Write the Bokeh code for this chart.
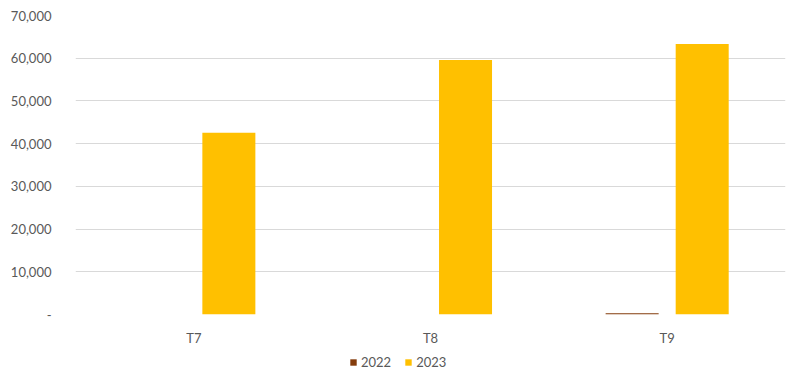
from bokeh.plotting import figure
from bokeh.layouts import column
from bokeh.models import ColumnDataSource, FactorRange, FixedTicker, Legend, LegendItem
from bokeh.transform import dodge
from bokeh.embed import file_html
from bokeh.resources import INLINE

categories = ["T7", "T8", "T9"]
series_2022 = [0, 0, 300]
series_2023 = [42550, 59600, 63350]
series_names = ["2022", "2023"]
y_ticks = [0, 10000, 20000, 30000, 40000, 50000, 60000, 70000]
y_labels = ["-", "10,000", "20,000", "30,000", "40,000", "50,000", "60,000", "70,000"]

colors = ["#843C0C", "#FFC000"]
source = ColumnDataSource(dict(cat=categories, y2022=series_2022, y2023=series_2023))

FONT = "Lato"
TXT = "#595959"

p = figure(width=790, height=348, x_range=FactorRange(*categories, range_padding=0),
           y_range=(0, 70000), output_backend="svg", toolbar_location=None,
           min_border_left=75, min_border_right=5, min_border_top=15, min_border_bottom=26)
p.outline_line_color = None
p.background_fill_color = "white"
p.border_fill_color = "white"

p.vbar(x=dodge("cat", -0.148, range=p.x_range), top="y2022", width=0.224,
       source=source, color=colors[0], line_color=None)
p.vbar(x=dodge("cat", 0.148, range=p.x_range), top="y2023", width=0.224,
       source=source, color=colors[1], line_color=None)

p.yaxis.ticker = FixedTicker(ticks=y_ticks)
p.yaxis.major_label_overrides = {t: l for t, l in zip(y_ticks, y_labels)}
for ax in (p.xaxis, p.yaxis):
    ax.axis_line_color = None
    ax.major_tick_line_color = None
    ax.minor_tick_line_color = None
    ax.major_label_text_font = FONT
    ax.major_label_text_font_size = "13px"
    ax.major_label_text_color = TXT
p.yaxis.major_label_standoff = 18
p.xaxis.major_label_standoff = 9

p.xgrid.grid_line_color = None
p.ygrid.grid_line_color = "#d9d9d9"
p.ygrid.grid_line_width = 1

# legend strip
lg = figure(width=790, height=36, output_backend="svg", toolbar_location=None,
            x_range=(0, 1), y_range=(0, 1), min_border=0)
lg.axis.visible = False
lg.grid.grid_line_color = None
lg.outline_line_color = None
items = []
for name, c in zip(series_names, colors):
    r = lg.quad(left=[-10], right=[-9], bottom=[-10], top=[-9], color=c, line_color=None)
    items.append(LegendItem(label=name, renderers=[r]))
legend = Legend(items=items, orientation="horizontal", location=(274, 14),
                label_text_font=FONT, label_text_font_size="13px", label_text_color=TXT,
                glyph_width=8, glyph_height=8, label_standoff=4, spacing=13,
                label_width=0, label_height=0,
                border_line_color=None, background_fill_alpha=0,
                padding=0, margin=0)
lg.add_layout(legend, "center")

layout = column(p, lg, spacing=0)
open("out.html", "w").write(file_html(layout, INLINE))
